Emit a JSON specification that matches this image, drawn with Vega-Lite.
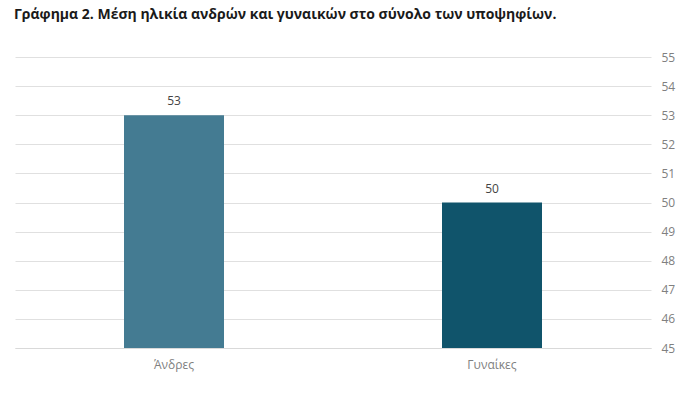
{
  "$schema": "https://vega.github.io/schema/vega-lite/v6.json",
  "width": 636,
  "height": 291,
  "autosize": {"type": "none"},
  "padding": {"left": 15, "top": 57, "right": 42, "bottom": 47},
  "background": "white",
  "title": {
    "text": "Γράφημα 2. Μέση ηλικία ανδρών και γυναικών στο σύνολο των υποψηφίων.",
    "anchor": "start",
    "frame": "group",
    "dx": -1,
    "offset": 29,
    "font": "Open Sans",
    "fontSize": 14,
    "fontWeight": "bold",
    "color": "#1a1a1a"
  },
  "config": {
    "view": {"stroke": null},
    "font": "Open Sans"
  },
  "data": {
    "values": [
      {"gender": "Άνδρες", "age": 53},
      {"gender": "Γυναίκες", "age": 50}
    ]
  },
  "encoding": {
    "x": {
      "field": "gender",
      "type": "nominal",
      "sort": null,
      "scale": {"paddingInner": 0, "paddingOuter": 0},
      "axis": {
        "title": null,
        "labelAngle": 0,
        "domain": true,
        "domainColor": "#d9d9d9",
        "ticks": false,
        "labelPadding": 11,
        "labelFontSize": 12,
        "labelColor": "#808080",
        "labelFont": "Open Sans"
      }
    },
    "y": {
      "field": "age",
      "type": "quantitative",
      "scale": {"domain": [45, 55], "nice": false, "zero": false},
      "axis": {
        "orient": "right",
        "title": null,
        "values": [45, 46, 47, 48, 49, 50, 51, 52, 53, 54, 55],
        "domain": false,
        "ticks": false,
        "gridColor": "#e0e0e0",
        "labelPadding": 10,
        "labelFontSize": 12,
        "labelColor": "#808080",
        "labelFont": "Open Sans"
      }
    }
  },
  "layer": [
    {
      "mark": {"type": "bar", "width": 100, "clip": true},
      "encoding": {
        "y2": {"datum": 45},
        "color": {
          "field": "gender",
          "type": "nominal",
          "scale": {"domain": ["Άνδρες", "Γυναίκες"], "range": ["#447b92", "#10546b"]},
          "legend": null
        }
      }
    },
    {
      "mark": {"type": "text", "baseline": "bottom", "dy": -7, "fontSize": 12, "color": "#444444", "font": "Open Sans"},
      "encoding": {"text": {"field": "age", "type": "quantitative"}}
    }
  ]
}
